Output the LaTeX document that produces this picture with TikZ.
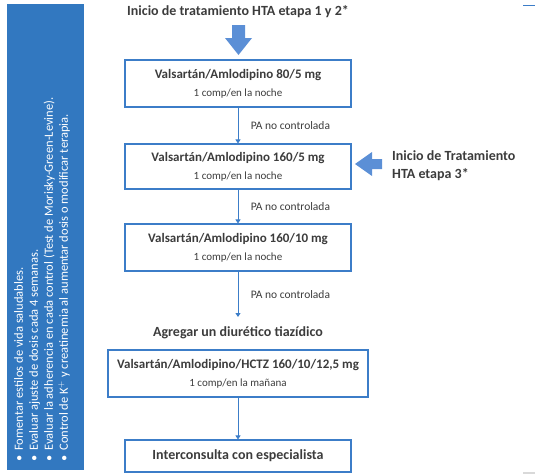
\documentclass[tikz,border=0pt]{standalone}
\usepackage{fontspec}
\setmainfont{Carlito}
\usetikzlibrary{positioning,arrows.meta}

\definecolor{panelblue}{RGB}{50,120,192}
\definecolor{boxblue}{RGB}{60,125,200}
\definecolor{fatblue}{RGB}{91,143,214}
\definecolor{txtgray}{RGB}{60,60,60}

\begin{document}
\begin{tikzpicture}[x=1pt,y=-1pt,
   box/.style={draw=boxblue,line width=1.1pt,minimum width=226pt,align=center,
      text=txtgray,inner sep=2pt,font=\fontsize{13}{18}\selectfont},
   flow/.style={draw=boxblue,line width=0.9pt,-{Triangle[width=5pt,length=4pt]}},
   pa/.style={font=\fontsize{11.5}{13}\selectfont,text=txtgray,anchor=west,xshift=9pt},
   head/.style={font=\fontsize{14}{18}\selectfont\bfseries,text=txtgray}]
   \useasboundingbox (0,0) rectangle (535,474);

   %panel izquierdo
   \fill[panelblue] (7,4) rectangle (84,470);
   \node (notas) at (14,462) [rotate=90,anchor=north west,align=left,text=white,
      font=\fontsize{12.5}{15}\selectfont,inner sep=0pt]
      {\textbullet\hspace{5pt}Fomentar estilos de vida saludables.\\
       \textbullet\hspace{5pt}Evaluar ajuste de dosis cada 4 semanas.\\
       \textbullet\hspace{5pt}Evaluar la adherencia en cada control (Test de Morisky-Green-Levine).\\
       \textbullet\hspace{5pt}Control de K$^+$ y creatinemia al aumentar dosis o modificar terapia.};

   %flujo
   \node (inicio) at (238,12) [head] {Inicio de tratamiento HTA etapa 1 y 2*};
   \node (b1) at (238,83.5) [box,minimum height=47pt]
      {\textbf{Valsart\'an/Amlodipino 80/5 mg}\\
       {\fontsize{11}{13}\selectfont 1 comp/en la noche}};
   \node (b2) at (238,166.5) [box,minimum height=45pt]
      {\textbf{Valsart\'an/Amlodipino 160/5 mg}\\
       {\fontsize{11}{13}\selectfont 1 comp/en la noche}};
   \node (b3) at (238,247.5) [box,minimum height=47pt]
      {\textbf{Valsart\'an/Amlodipino 160/10 mg}\\
       {\fontsize{11}{13}\selectfont 1 comp/en la noche}};
   \coordinate (c3) at (238,317);
   \node (diur) at (238,333) [head] {Agregar un diur\'etico tiaz\'idico};
   \node (b4) at (238,373.5) [box,minimum width=260pt,minimum height=47pt]
      {\textbf{Valsart\'an/Amlodipino/HCTZ 160/10/12,5 mg}\\
       {\fontsize{11}{13}\selectfont 1 comp/en la ma\~nana}};
   \node (b5) at (238,456) [box,minimum height=32pt]
      {\bfseries\fontsize{14}{16}\selectfont Interconsulta con especialista};
   \node (etapa3) at (392,166) [head,anchor=west,align=left,inner sep=0pt]
      {Inicio de Tratamiento\\HTA etapa 3*};

   %flechas gruesas
   \fill[fatblue] (232,25) -- (245,25) -- (245,38) -- (252,38) -- (238.5,55)
      -- (225,38) -- (232,38) -- cycle;
   \fill[fatblue] (382,159) -- (372,159) -- (372,152) -- (355,164) -- (372,176)
      -- (372,169) -- (382,169) -- cycle;

   \draw[flow] (b1) -- (b2) node[pa,midway] {PA no controlada};
   \draw[flow] (b2) -- (b3) node[pa,midway] {PA no controlada};
   \draw[flow] (b3) -- (c3) node[pa,midway] {PA no controlada};
   \draw[flow] (b4) -- (b5);

   \draw[boxblue,line width=1pt] (523,5) -- (535,5);
   \draw[black!15,line width=1.5pt] (523,473) -- (535,473);
\end{tikzpicture}
\end{document}
